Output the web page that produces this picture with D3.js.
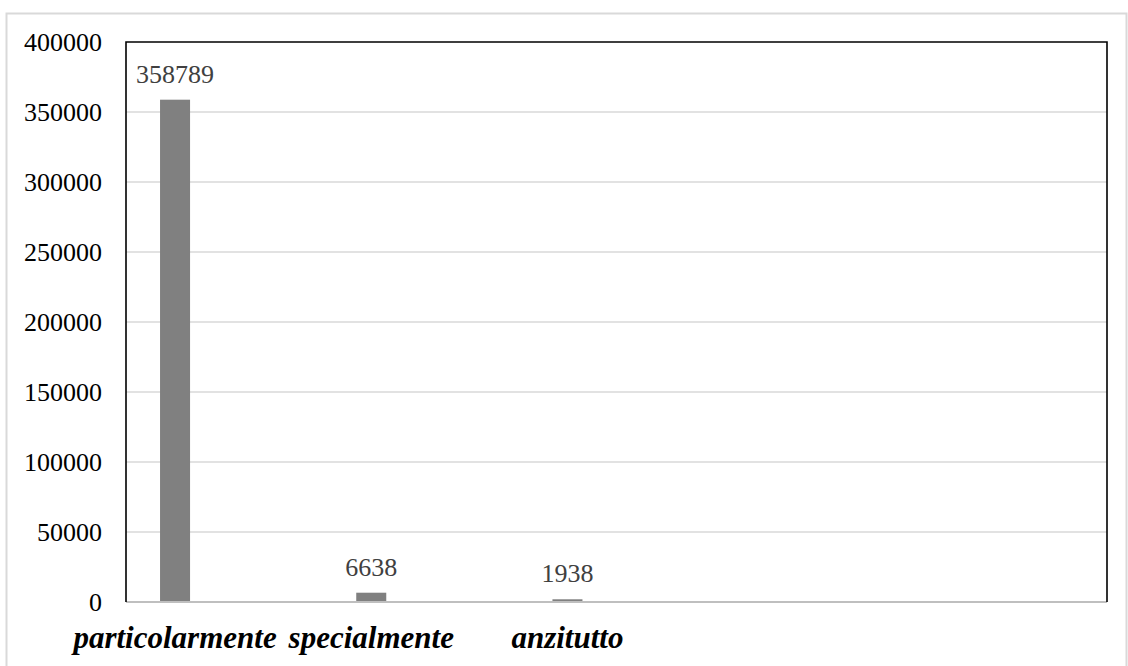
<!DOCTYPE html>
<html>
<head>
<meta charset="utf-8">
<script src="https://cdn.jsdelivr.net/npm/d3@7/dist/d3.min.js"></script>
<style>
  html, body { margin: 0; padding: 0; background: #fff; }
  svg { display: block; }
</style>
</head>
<body>
<svg id="chart" width="1128" height="666"></svg>
<script>
// ---- data ----
const categories = ["particolarmente", "specialmente", "anzitutto"];
const values = [358789, 6638, 1938];
const yTicks = [0, 50000, 100000, 150000, 200000, 250000, 300000, 350000, 400000];

// ---- layout ----
const FONT = '"Liberation Serif"';
const plot = { left: 126, right: 1107, top: 42, bottom: 602 };
const slotsInAxis = 5; // the category axis spans 5 equal slots
const slot = (plot.right - plot.left) / slotsInAxis;

const svg = d3.select("#chart");

// outer chart border
svg.append("rect")
  .attr("x", 6.5).attr("y", 13.5)
  .attr("width", 1120).attr("height", 700)
  .attr("fill", "#fff")
  .attr("stroke", "#d9d9d9").attr("stroke-width", 2);

const y = d3.scaleLinear().domain([0, 400000]).range([plot.bottom, plot.top]);
const x = d3.scaleBand().domain(categories)
  .range([plot.left, plot.left + slot * categories.length]).padding(0);

const barW = x.bandwidth() * 0.153;
const cx = c => x(c) + x.bandwidth() * 0.25;

// gridlines
svg.append("g").selectAll("line")
  .data(yTicks.filter(t => t > 0 && t < 400000))
  .join("line")
  .attr("x1", plot.left).attr("x2", plot.right)
  .attr("y1", d => y(d)).attr("y2", d => y(d))
  .attr("stroke", "#d9d9d9").attr("stroke-width", 1.5);

// bars
svg.append("g").selectAll("rect")
  .data(categories)
  .join("rect")
  .attr("x", c => cx(c) - barW / 2)
  .attr("width", barW)
  .attr("y", (c, i) => y(values[i]))
  .attr("height", (c, i) => y(0) - y(values[i]))
  .attr("fill", "#808080");

// frame: bottom gray axis, others black
svg.append("line")
  .attr("x1", plot.left).attr("x2", plot.right)
  .attr("y1", plot.bottom).attr("y2", plot.bottom)
  .attr("stroke", "#bfbfbf").attr("stroke-width", 2);
svg.append("path")
  .attr("d", `M${plot.left},${plot.bottom} V${plot.top} H${plot.right} V${plot.bottom}`)
  .attr("fill", "none").attr("stroke", "#000").attr("stroke-width", 1.6);

// y tick labels via axis
const yAxis = d3.axisLeft(y).tickValues(yTicks).tickSize(0).tickPadding(0)
  .tickFormat(d3.format("d"));
const gy = svg.append("g").attr("transform", `translate(${plot.left - 24},0)`).call(yAxis);
gy.attr("font-family", null).attr("font-size", null);
gy.select(".domain").remove();
gy.selectAll("text")
  .style("font-family", FONT)
  .style("font-size", "26px")
  .attr("fill", "#000")
  .attr("dy", "0.33em");

// value labels
svg.append("g").selectAll("text")
  .data(categories)
  .join("text")
  .attr("x", c => cx(c))
  .attr("y", (c, i) => y(values[i]) - 17)
  .attr("text-anchor", "middle")
  .style("font-family", FONT)
  .style("font-size", "26px")
  .attr("fill", "#404040")
  .text((c, i) => values[i]);

// category labels
svg.append("g").selectAll("text")
  .data(categories)
  .join("text")
  .attr("x", c => cx(c))
  .attr("y", 648)
  .attr("text-anchor", "middle")
  .style("font-family", FONT)
  .style("font-size", "31px")
  .style("font-weight", "bold")
  .style("font-style", "italic")
  .attr("fill", "#000")
  .text(c => c);
</script>
</body>
</html>
